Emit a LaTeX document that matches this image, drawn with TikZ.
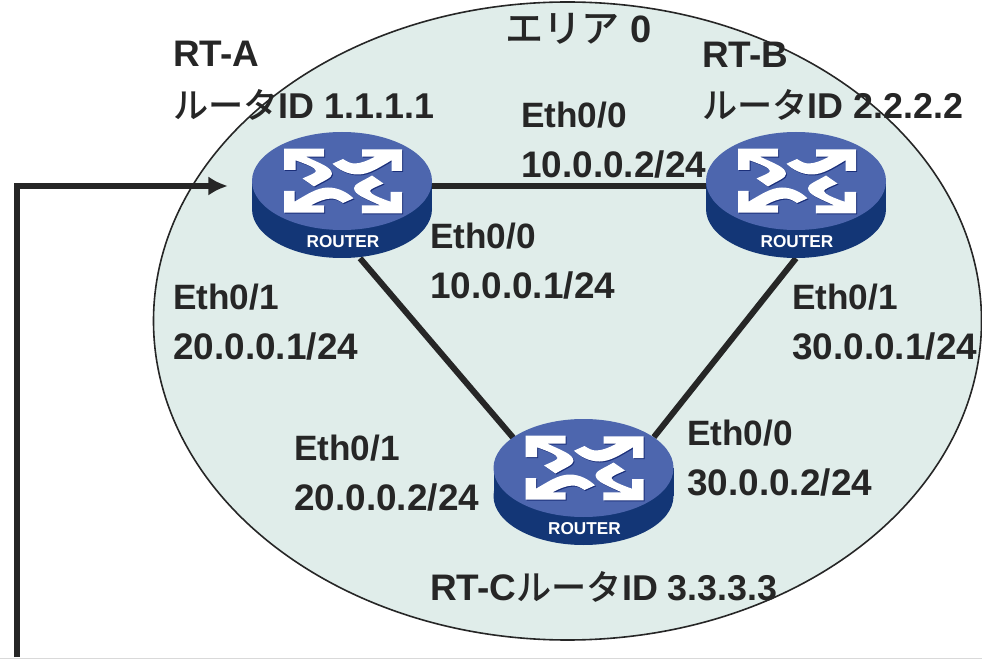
\documentclass[tikz,border=0pt]{standalone}
\usepackage{fontspec}
\setmainfont{Liberation Sans}
\newfontfamily\cjk{Noto Sans CJK JP}[BoldFont=* Medium]
\newcommand{\zahl}[1]{{\fontsize{27.7}{37}\selectfont #1}}
\newcommand{\kennung}[1]{{\fontsize{26.9}{37}\selectfont #1}}
\usetikzlibrary{arrows.meta}
\definecolor{flaeche}{HTML}{E0EDEA}
\definecolor{schrift}{HTML}{262626}
\definecolor{deckel}{HTML}{4D66AE}
\definecolor{mantel}{HTML}{133676}
\definecolor{pfeilschatten}{HTML}{1B2F7A}

\begin{document}
\begin{tikzpicture}[
    x=.75pt, y=-.75pt,
    knoten/.style={
      rectangle,
      minimum width=135pt,
      minimum height=108pt,
      inner sep=0pt},
    etikett/.style={
      anchor=north west,
      align=left,
      inner sep=0pt,
      text=schrift,
      font=\fontsize{26.4}{37}\selectfont\bfseries},
    leitung/.style={draw=schrift, line width=4.5pt},
    /routerzeichen/.code={
      \path[#1] (-59,-32.3) -- (-18.8,-32.3) -- (-18.8,-24.3) -- (-37,-24.3)
        .. controls (-24,-18) and (-11,-14) .. (-11,-7)
        .. controls (-11,-3) and (-20,0) .. (-29,5.5)
        -- (-40.5,-2.5) .. controls (-33,-6) and (-27,-8) .. (-27,-10)
        .. controls (-27,-13) and (-37,-17) .. (-47.5,-20.7)
        -- (-47.5,-11) -- (-59,-11) -- cycle;
      \path[#1] (59,-31.7) -- (19,-31.7) -- (19,-24.3) -- (32,-24.3)
        .. controls (26,-21) and (18,-17.5) .. (11.8,-17.5)
        .. controls (7,-17.5) and (4,-19.5) .. (0,-22)
        -- (-10.5,-17.3) .. controls (-5,-12) and (4,-6.5) .. (15,-6.5)
        .. controls (26,-6.5) and (37,-14) .. (48.5,-20.7)
        -- (48.5,-10) -- (59,-10) -- cycle;
    },
    routerbild/.pic={
      \fill[mantel] (0,23) ellipse [x radius=90, y radius=49];
      \fill[mantel] (-90,-5) rectangle (90,23);
      \fill[deckel] (0,-5) ellipse [x radius=90, y radius=49];
      \begin{scope}[shift={(1,-5)}]
        \begin{scope}[shift={(1,1)}]
          \tikzset{/routerzeichen={fill=pfeilschatten}}
          \begin{scope}[rotate=180]
            \tikzset{/routerzeichen={fill=pfeilschatten}}
          \end{scope}
        \end{scope}
        \tikzset{/routerzeichen={fill=white}}
        \begin{scope}[rotate=180]
          \tikzset{/routerzeichen={fill=white}}
        \end{scope}
      \end{scope}
      \node (aufschrift) at (1,56) [text=white, inner sep=0pt,
        font=\fontsize{12.9}{14}\selectfont\bfseries] {ROUTER};
    }
    ]

  \useasboundingbox (0,0) rectangle (982,659);

  \fill[flaeche] (567.5,321) ellipse [x radius=414, y radius=319];
  \draw[schrift, line width=1.2pt] (567.5,321) ellipse [x radius=414, y radius=319];

  \node at (342,186) (rta) [knoten] {};
  \node at (796,186) (rtb) [knoten] {};
  \node at (583.5,473) (rtc) [knoten] {};
  \coordinate (anfang) at (17,657);
  \coordinate (randlinks) at (0,658.5);
  \coordinate (randrechts) at (982,658.5);

  \draw[leitung] (rta.east) -- (rtb.west);
  \draw[leitung, shorten >=-24pt] (rta.-76) -- (rtc.147);
  \draw[leitung, shorten >=-24pt] (rtb.south) -- (rtc.34);
  \draw[schrift, line width=4.9pt, shorten >=18pt, -{Latex[length=14.6pt,width=14.6pt]}] (anfang) |- (rta.west);
  \draw[black!15, line width=.8pt] (randlinks) -- (randrechts);

  \pic (bilda) at (rta.center) {routerbild};
  \pic (bildb) at (rtb.center) {routerbild};
  \pic (bildc) at (rtc.center) {routerbild};

  \node at (505,13) (bereich) [etikett, font=\fontsize{28.6}{37}\selectfont\bfseries] {{\cjk エリア} 0};
  \node at (173,41) (namea) [etikett] {\zahl{RT-A}\\[1.5pt]{\cjk ルータ}\kennung{ID 1.1.1.1}};
  \node at (702,42) (nameb) [etikett] {\zahl{RT-B}\\[1pt]{\cjk ルータ}\kennung{ID 2.2.2.2}};
  \node at (430,571) (namec) [etikett] {\zahl{RT-C}{\cjk ルータ}\kennung{ID 3.3.3.3}};
  \node at (521,102) (abzwei) [etikett] {Eth0/0\\\zahl{10.0.0.2/24}};
  \node at (430,223) (abeins) [etikett] {Eth0/0\\\zahl{10.0.0.1/24}};
  \node at (173,284) (aceins) [etikett] {Eth0/1\\\zahl{20.0.0.1/24}};
  \node at (792,284) (bceins) [etikett] {Eth0/1\\\zahl{30.0.0.1/24}};
  \node at (294,435) (aczwei) [etikett] {Eth0/1\\\zahl{20.0.0.2/24}};
  \node at (687,420) (bczwei) [etikett] {Eth0/0\\\zahl{30.0.0.2/24}};

\end{tikzpicture}
\end{document}
